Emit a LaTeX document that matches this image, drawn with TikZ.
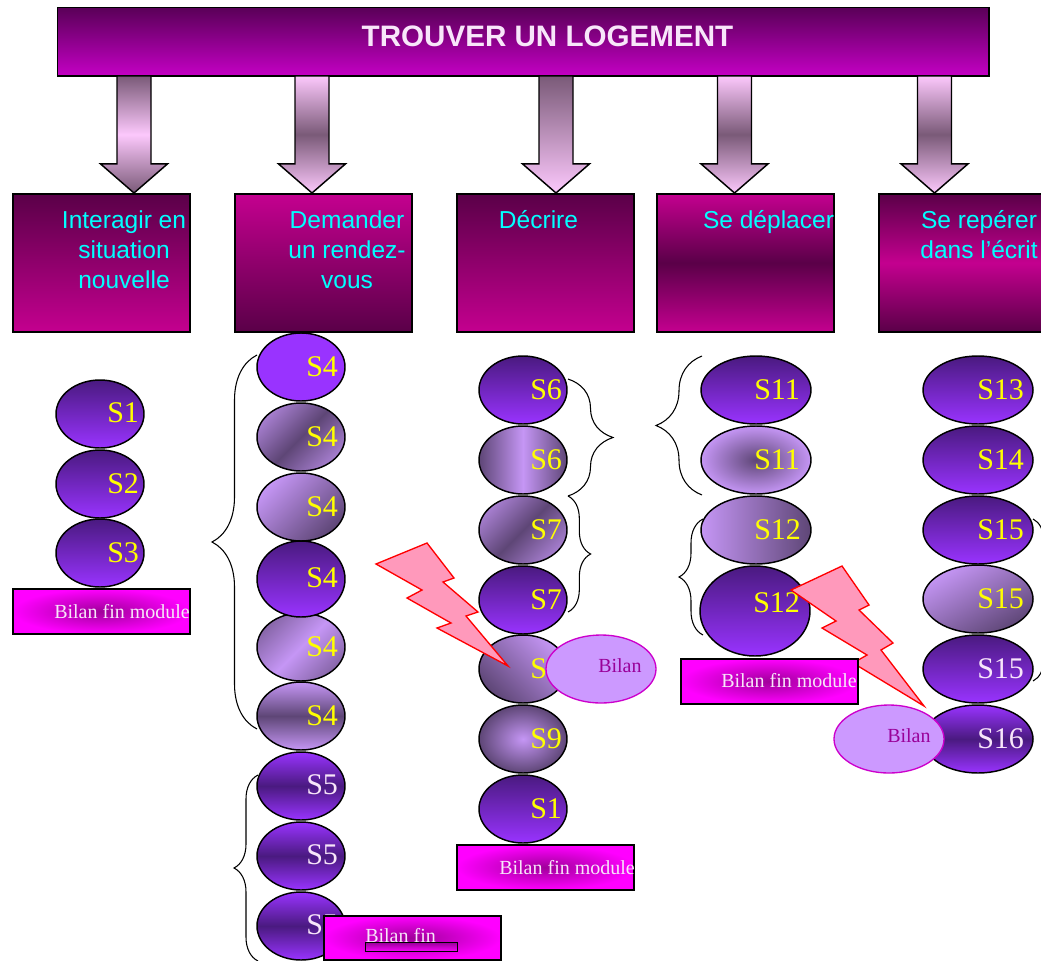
\documentclass[tikz,border=0pt]{standalone}
\usepackage{fontspec}
\setmainfont{Liberation Serif}
\setsansfont{Liberation Sans}
\usetikzlibrary{shapes.geometric,shapes.arrows,decorations.pathreplacing}

\definecolor{titledark}{HTML}{5A0058}
\definecolor{titlebright}{HTML}{C400C4}
\definecolor{plumdark}{HTML}{5A0048}
\definecolor{plumbright}{HTML}{C4008F}
\definecolor{violetdark}{HTML}{4A1A80}
\definecolor{violetbright}{HTML}{9933FF}
\definecolor{lilac}{HTML}{C596F5}
\definecolor{lilacdark}{HTML}{5E4676}
\definecolor{arrowlight}{HTML}{FCC8FC}
\definecolor{arrowdark}{HTML}{7A5A78}
\definecolor{boltpink}{HTML}{FF99BB}
\definecolor{boltred}{HTML}{FF0000}
\definecolor{bilanfill}{HTML}{CC99FF}
\definecolor{bilanline}{HTML}{CC00CC}
\definecolor{bilanink}{HTML}{990099}
\definecolor{palewhite}{HTML}{F8E6FA}
\definecolor{modcyan}{HTML}{00FFFF}
\definecolor{ovalyellow}{HTML}{FFFF00}
\definecolor{finbright}{HTML}{FF00FF}
\definecolor{findark}{HTML}{A0009A}

\tikzset{
  titlebox/.style={rectangle,draw=black,line width=1pt,anchor=north west,inner sep=0pt,minimum width=698.5pt,minimum height=51.25pt,top color=titledark,bottom color=titlebright},
  modbox/.style={rectangle,draw=black,line width=1.2pt,anchor=north west,inner sep=0pt,minimum width=132.75pt,minimum height=103.5pt},
  modtext/.style={anchor=north,align=center,inner sep=0pt,text=modcyan,font=\sffamily\fontsize{18.4}{22.5}\selectfont},
  blockarrow/.style={single arrow,draw=black,line width=1.1pt,shape border rotate=270,anchor=tip,inner sep=12.2pt,outer sep=0pt,minimum width=49pt,minimum height=87.75pt,single arrow head extend=12.3pt,single arrow head indent=0pt,single arrow tip angle=98},
  oval/.style={ellipse,draw=black,line width=1.1pt,inner sep=0pt,minimum width=66pt,minimum height=51pt},
  ovalwide/.style={oval,minimum width=82.5pt},
  shdark/.style={top color=violetdark,bottom color=violetbright},
  shband/.style={top color=violetbright,bottom color=violetbright,middle color=violetdark},
  shdiag/.style={top color=lilac!70!lilacdark,bottom color=lilac!70!lilacdark,middle color=lilacdark,shading angle=45},
  ovaltext/.style={anchor=west,inner sep=0pt,text=ovalyellow,font=\fontsize{22.5}{26}\selectfont},
  ovalwhite/.style={ovaltext,text=palewhite},
  finbox/.style={rectangle,draw=black,line width=1.2pt,anchor=north west,inner sep=0pt,minimum width=132.75pt,minimum height=33.75pt,inner color=findark,outer color=finbright},
  fintext/.style={anchor=west,inner sep=0pt,text=palewhite,font=\fontsize{15}{18}\selectfont},
  bilanoval/.style={ellipse,draw=bilanline,line width=1pt,fill=bilanfill,inner sep=0pt,minimum width=82.5pt,minimum height=51pt},
  bilantext/.style={anchor=west,inner sep=0pt,text=bilanink,font=\fontsize{15}{18}\selectfont},
  bolt/.style={draw=boltred,line width=1pt,fill=boltpink,line join=miter},
  curly/.style={decorate,decoration={brace,amplitude=#1},draw=black,line width=.8pt}
}

\begin{document}
\begin{tikzpicture}[x=0.75pt,y=0.75pt,yscale=-1,xscale=1]
\useasboundingbox (0,0) rectangle (1041,960);
\clip (0,0) rectangle (1041,960);

% title
\node[titlebox] (title) at (57,7) {};
\node[anchor=center,inner sep=0pt,text=palewhite,font=\sffamily\bfseries\fontsize{22.2}{26}\selectfont] (titletext) at (547.5,36) {TROUVER UN LOGEMENT};

% modules
\node[modbox,top color=plumdark,bottom color=plumbright] (moda) at (12,193) {};
\node[modbox,top color=plumbright,bottom color=plumdark] (modb) at (234,193) {};
\node[modbox,top color=plumdark,bottom color=plumbright] (modc) at (456,193) {};
\node[modbox,top color=plumbright,bottom color=plumbright,middle color=plumdark] (modd) at (656,193) {};
\node[modbox,top color=plumdark,bottom color=plumdark,middle color=plumbright] (mode) at (878,193) {};

\node[modtext] (modatext) at (124,210) {Interagir en\\situation\\nouvelle};
\node[modtext] (modbtext) at (347,210) {Demander\\un rendez-\\vous};
\node[modtext] (modctext) at (538.5,210) {Décrire};
\node[modtext] (moddtext) at (768.5,210) {Se déplacer};
\node[modtext] (modetext) at (979,210) {Se repérer\\dans l’écrit};

% block arrows
\node[blockarrow,top color=arrowdark,bottom color=arrowdark,middle color=arrowlight] (arrowa) at (134,193) {};
\node[blockarrow,top color=arrowlight,bottom color=arrowlight,middle color=arrowdark] (arrowb) at (312,193) {};
\node[blockarrow,top color=arrowdark,bottom color=arrowlight] (arrowc) at (556,193) {};
\node[blockarrow,top color=arrowlight,bottom color=arrowlight,middle color=arrowdark] (arrowd) at (734.5,193) {};
\node[blockarrow,top color=arrowlight,bottom color=arrowlight,middle color=arrowdark] (arrowe) at (934.5,193) {};

% braces
\coordinate (bracea1) at (257,355);
\coordinate (bracea2) at (257,729);
\coordinate (braceb1) at (258,775);
\coordinate (braceb2) at (258,961);
\coordinate (bracec1) at (568,379);
\coordinate (bracec2) at (568,496);
\coordinate (braced1) at (568,496);
\coordinate (braced2) at (568,612);
\coordinate (bracee1) at (702,356);
\coordinate (bracee2) at (702,495);
\coordinate (bracef1) at (703,519);
\coordinate (bracef2) at (703,635);
\coordinate (braceg1) at (1033,519);
\coordinate (braceg2) at (1033,681);
\draw[curly=33.75pt] (bracea2) -- (bracea1);
\draw[curly=18pt] (braceb2) -- (braceb1);
\draw[curly=33.75pt] (bracec1) -- (bracec2);
\draw[curly=17pt] (braced1) -- (braced2);
\draw[curly=34.5pt] (bracee2) -- (bracee1);
\draw[curly=18pt] (bracef2) -- (bracef1);
\draw[curly=16pt] (braceg1) -- (braceg2);

% column one
\node[oval,shdark] (sa) at (100,414) {};
\node[ovaltext] (satext) at (107,413) {S1};
\node[oval,shdark] (sb) at (100,484) {};
\node[ovaltext] (sbtext) at (107,484) {S2};
\node[oval,shdark] (sc) at (100,553) {};
\node[ovaltext] (sctext) at (107,553) {S3};
\node[finbox] (fina) at (12,588) {};
\node[fintext] (finatext) at (54,612) {Bilan fin module};

% column two
\node[oval,fill=violetbright] (sd) at (301,367) {};
\node[ovaltext] (sdtext) at (306,367) {S4};
\node[oval,shdiag] (se) at (301,437) {};
\node[ovaltext] (setext) at (306,437) {S4};
\node[oval,top color=lilac,bottom color=lilacdark,shading angle=45] (sf) at (301,507) {};
\node[ovaltext] (sftext) at (306,507) {S4};
\node[oval,top color=lilac!40!lilacdark,bottom color=lilac!40!lilacdark,middle color=lilac,shading angle=45] (sh) at (301,647) {};
\node[ovaltext] (shtext) at (306,647) {S4};
\node[oval,minimum height=57pt,shdark] (sg) at (301,579) {};
\node[ovaltext] (sgtext) at (306,578) {S4};
\node[oval,top color=lilac,bottom color=lilac,middle color=lilacdark] (si) at (301,716) {};
\node[ovaltext] (sitext) at (306,716) {S4};
\node[oval,shband] (sj) at (301,786) {};
\node[ovalwhite] (sjtext) at (306,785) {S5};
\node[oval,shband] (sk) at (301,856) {};
\node[ovalwhite] (sktext) at (306,855) {S5};
\node[oval,shband] (sl) at (301,926) {};
\node[ovalwhite] (sltext) at (306,925) {S5};
\node[finbox,minimum height=33pt] (finb) at (323,915) {};
\node[fintext] (finbtext) at (365,936) {Bilan fin};
\node[rectangle,draw=black,line width=.4pt,inner sep=0pt,anchor=north west,minimum width=69pt,minimum height=7pt,top color=bilanink,bottom color=finbright] (finbpatch) at (365,942) {};

% column three
\node[oval,shdark] (sm) at (523,390) {};
\node[ovaltext] (smtext) at (530,390) {S6};
\node[oval,left color=lilacdark,right color=lilacdark,middle color=lilac] (sn) at (523,460) {};
\node[ovaltext] (sntext) at (530,460) {S6};
\node[oval,shdiag] (so) at (523,530) {};
\node[ovaltext] (sotext) at (530,530) {S7};
\node[oval,shdark] (sp) at (523,600) {};
\node[ovaltext] (sptext) at (530,600) {S7};
\node[oval,top color=lilac,bottom color=lilacdark,shading angle=-45] (sq) at (523,669) {};
\node[ovaltext] (sqtext) at (530,669) {S8};
\node[oval,inner color=lilac,outer color=lilacdark] (sr) at (523,739) {};
\node[ovaltext] (srtext) at (530,739) {S9};
\node[oval,shdark] (ss) at (523,809) {};
\node[ovaltext] (sstext) at (530,809) {S1};
\node[finbox] (finc) at (456,844) {};
\node[fintext] (finctext) at (499,868) {Bilan fin module};

% column four
\node[ovalwide,shdark] (st) at (756,390) {};
\node[ovaltext] (sttext) at (754,390) {S11};
\node[ovalwide,inner color=lilacdark,outer color=lilac] (su) at (756,460) {};
\node[ovaltext] (sutext) at (754,460) {S11};
\node[ovalwide,left color=lilac,right color=lilacdark] (sv) at (756,530) {};
\node[ovaltext] (svtext) at (754,530) {S12};
\node[ovalwide,minimum height=67.5pt,shdark] (sw) at (755,611) {};
\node[ovaltext] (swtext) at (753,603) {S12};

% column five
\node[ovalwide,shdark] (sx) at (978,390) {};
\node[ovaltext] (sxtext) at (977,390) {S13};
\node[ovalwide,shdark] (sy) at (978,460) {};
\node[ovaltext] (sytext) at (977,460) {S14};
\node[ovalwide,shdark] (sz) at (978,530) {};
\node[ovaltext] (sztext) at (977,530) {S15};
\node[ovalwide,top color=lilac,bottom color=lilacdark,shading angle=30] (saa) at (978,599) {};
\node[ovaltext] (saatext) at (977,599) {S15};
\node[ovalwide,shdark] (sab) at (978,669) {};
\node[ovalwhite] (sabtext) at (977,669) {S15};
\node[ovalwide,shband] (sac) at (978,739) {};
\node[ovalwhite] (sactext) at (977,739) {S16};

% lightning bolts
\draw[bolt] (376,564) -- (427,543) -- (454,578) -- (443,582) -- (478,612) -- (466,616) -- (508,666) -- (437,628) -- (451,623) -- (407,598) -- (422,590) -- cycle;
\draw[bolt] (791,590) -- (842,566) -- (869,605) -- (859,610) -- (893,643) -- (881,650) -- (924,706) -- (853,663) -- (867,655) -- (822,628) -- (836,621) -- cycle;

% bilans
\node[finbox] (find) at (680,658) {};
\node[fintext] (findtext) at (721,681) {Bilan fin module};
\node[bilanoval] (bilana) at (601,669) {};
\node[bilantext] (bilanatext) at (598,666) {Bilan};
\node[bilanoval] (bilanb) at (889,739) {};
\node[bilantext] (bilanbtext) at (887,736) {Bilan};
\end{tikzpicture}
\end{document}
